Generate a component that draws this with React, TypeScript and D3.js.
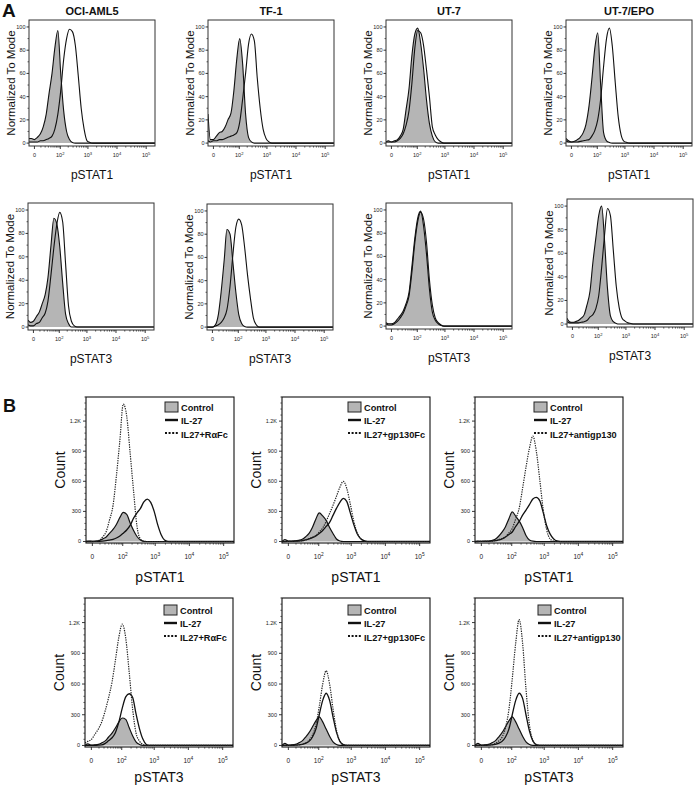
import React from 'react';
import * as d3 from 'd3';

// ---------- shared axis data ----------
// intensity grid (fluorescence units) at which histogram heights were read
const X_GRID = [-8, -4, 0, 4, 9, 15, 23, 32, 45, 60, 80, 104, 135, 174, 223, 284, 362, 459, 582, 736, 931, 1176, 1485, 1874, 2363, 2978];
const X_MAJOR = [0, 100, 1000, 10000, 100000];
const X_EXP = ['', '2', '3', '4', '5'];
const CELL_LINES = ['OCI-AML5', 'TF-1', 'UT-7', 'UT-7/EPO'];
const A_MARKERS = ['pSTAT1', 'pSTAT3'];
const A_Y_TICKS = [0, 20, 40, 60, 80, 100];
const B_Y_TICKS = [0, 300, 600, 900, 1200];
const B_Y_LABELS = ['0', '300', '600', '900', '1.2K'];
const B_LEGEND = ['Control', 'IL-27'];
const B_TREATMENTS = ['IL27+R\u03b1Fc', 'IL27+gp130Fc', 'IL27+antigp130'];
const B_MARKERS = ['pSTAT1', 'pSTAT3'];

// ---------- panel A: % of mode ----------
const OCI_STAT1_CTRL = [4, 4, 3, 5, 8, 14, 25, 42, 60, 82, 97, 60, 28, 10, 3, 0.5, 0];
const OCI_STAT1_IL27 = [1, 1, 1, 1, 2, 2, 3, 4, 6, 12, 25, 45, 72, 90, 98, 96, 84, 58, 30, 12, 2, 0.5, 0];
const TF1_STAT1_CTRL = [25, 3, 3, 6, 9, 10, 14, 20, 26, 45, 73, 90, 68, 25, 5, 1, 0];
const TF1_STAT1_IL27 = [2, 1, 2, 2, 3, 3, 4, 5, 6, 7, 9, 18, 38, 60, 85, 94, 88, 56, 30, 12, 4, 1, 0];
const UT7_STAT1_CTRL = [1, 2, 1, 2, 3, 6, 12, 28, 47, 75, 94, 99, 86, 64, 37, 17, 6, 1, 0];
const UT7_STAT1_IL27 = [1, 1, 1, 1, 2, 4, 8, 15, 28, 51, 82, 97, 95, 84, 63, 40, 14, 7, 3, 1, 0];
const EPO_STAT1_CTRL = [4, 2, 1, 1.5, 3, 5, 9, 16, 32, 55, 82, 95, 50, 9, 2, 0.5, 0];
const EPO_STAT1_IL27 = [2, 1, 1, 1, 1, 1.5, 2, 2.5, 3, 6, 11, 20, 38, 66, 90, 99, 83, 52, 23, 7, 1.5, 0.5, 0];

const OCI_STAT3_CTRL = [6, 4, 5, 9, 13, 20, 28, 42, 70, 93, 88, 69, 38, 11, 3, 0];
const OCI_STAT3_IL27 = [2, 1, 1, 3, 4, 8, 12, 22, 45, 68, 88, 98, 90, 54, 18, 5, 1, 0];
const TF1_STAT3_CTRL = [0, 0, 0, 2, 11, 31, 58, 84, 80, 56, 30, 11, 3, 0.5, 0];
const TF1_STAT3_IL27 = [0, 0, 0, 1, 2, 4, 8, 15, 35, 62, 86, 93, 88, 69, 45, 25, 8, 2, 0];
const UT7_STAT3_CTRL = [3, 2, 2, 3, 6, 9, 13, 19, 29, 51, 76, 93, 99, 86, 62, 32, 12, 5, 2, 0.5, 0];
const UT7_STAT3_IL27 = [2, 1, 1, 2, 4, 7, 11, 17, 26, 46, 72, 90, 98, 92, 72, 40, 18, 7, 3, 1, 0];
const EPO_STAT3_CTRL = [5, 2, 1.5, 2, 3, 5, 8, 16, 28, 52, 73, 92, 100, 70, 30, 7, 2, 0.5, 0];
const EPO_STAT3_IL27 = [2, 1, 1, 1, 1, 1.5, 2, 3, 6, 8, 13, 24, 48, 76, 98, 92, 62, 32, 14, 5, 2.5, 1, 0.5, 0];

// ---------- panel B: counts ----------
const RA_STAT1_CTRL = [0, 5, 2, 4, 10, 25, 45, 80, 120, 170, 240, 290, 270, 185, 110, 50, 15, 2, 0];
const RA_STAT1_IL27 = [0, 0, 0, 1, 2, 4, 8, 14, 22, 35, 55, 83, 115, 160, 233, 285, 330, 395, 423, 390, 300, 170, 70, 15, 2, 0];
const RA_STAT1_MIX = [0, 0, 0, 2, 15, 45, 100, 210, 360, 650, 1010, 1370, 1250, 880, 500, 150, 25, 3, 0];
const GP_STAT1_CTRL = [0, 20, 3, 4, 6, 12, 22, 45, 80, 140, 225, 285, 255, 210, 140, 80, 25, 5, 0];
const GP_STAT1_IL27 = [0, 0, 1, 2, 3, 5, 8, 15, 25, 38, 55, 80, 110, 150, 190, 260, 330, 390, 430, 400, 290, 175, 80, 30, 8, 0];
const GP_STAT1_MIX = [0, 0, 1, 2, 3, 5, 8, 15, 28, 42, 60, 95, 135, 200, 280, 360, 450, 540, 600, 530, 380, 210, 90, 30, 8, 0];
const AB_STAT1_CTRL = [0, 3, 2, 3, 5, 10, 22, 50, 93, 145, 227, 295, 252, 205, 140, 60, 15, 3, 0];
const AB_STAT1_IL27 = [0, 0, 1, 1, 2, 4, 8, 15, 25, 45, 70, 95, 150, 200, 262, 313, 368, 424, 440, 407, 291, 159, 76, 28, 5, 0];
const AB_STAT1_MIX = [0, 0, 1, 1, 2, 4, 8, 18, 30, 45, 85, 130, 225, 330, 530, 740, 930, 1050, 900, 620, 320, 120, 25, 5, 0];

const RA_STAT3_CTRL = [0, 15, 3, 5, 10, 25, 45, 80, 120, 170, 230, 268, 255, 175, 95, 35, 10, 1, 0];
const RA_STAT3_IL27 = [0, 0, 1, 2, 3, 5, 20, 45, 75, 125, 230, 365, 474, 505, 470, 310, 165, 62, 10, 0];
const RA_STAT3_MIX = [25, 40, 58, 110, 160, 230, 340, 460, 620, 830, 1060, 1185, 1050, 720, 360, 122, 42, 10, 0];
const GP_STAT3_CTRL = [0, 20, 3, 5, 10, 25, 45, 80, 125, 180, 240, 280, 230, 160, 90, 35, 10, 1, 0];
const GP_STAT3_IL27 = [0, 0, 1, 2, 3, 5, 10, 20, 40, 80, 160, 300, 440, 510, 440, 280, 130, 40, 8, 0];
const GP_STAT3_MIX = [0, 0, 1, 2, 3, 5, 12, 25, 50, 100, 200, 380, 600, 730, 600, 360, 150, 45, 8, 0];
const AB_STAT3_CTRL = [0, 20, 3, 5, 10, 25, 45, 80, 125, 180, 240, 280, 230, 160, 90, 35, 10, 1, 0];
const AB_STAT3_IL27 = [0, 0, 1, 2, 3, 5, 10, 20, 40, 80, 160, 300, 440, 510, 460, 300, 140, 45, 8, 0];
const AB_STAT3_MIX = [0, 0, 1, 2, 4, 8, 20, 40, 80, 170, 350, 650, 1000, 1230, 1000, 550, 200, 50, 8, 0];

const FONT = "'Liberation Sans', Arial, Helvetica, sans-serif";
const GRAY = '#b5b5b5';
const X_MAX = 200000;

function minorTicks(): number[] {
  const out: number[] = [];
  for (let k = 1; k <= 9; k++) out.push(k * 10);
  [100, 1000, 10000].forEach((d) => { for (let k = 2; k <= 9; k++) out.push(k * d); });
  return out;
}

function toPts(arr: number[]): [number, number][] {
  const p: [number, number][] = arr.map((v, i) => [X_GRID[i], v] as [number, number]);
  p.push([X_MAX, 0]);
  return p;
}

function XAxis({ x, bottom, fs, labelOff }: any) {
  const minor = minorTicks();
  return (
    <g>
      {minor.map((v, i) => (
        <line key={'m' + i} x1={x(v)} x2={x(v)} y1={bottom} y2={bottom + 1.6} stroke="#222" strokeWidth={0.7} />
      ))}
      {X_MAJOR.map((v, i) => (
        <g key={'M' + i}>
          <line x1={x(v)} x2={x(v)} y1={bottom} y2={bottom + 3} stroke="#222" strokeWidth={0.9} />
          <text x={x(v)} y={bottom + labelOff} textAnchor="middle" fontSize={fs} fontFamily={FONT} fill="#222">
            {X_EXP[i] === '' ? '0' : '10'}
            {X_EXP[i] !== '' && (
              <tspan dy={-fs * 0.45} fontSize={fs * 0.75}>{X_EXP[i]}</tspan>
            )}
          </text>
        </g>
      ))}
    </g>
  );
}

function APanel({ id, left, top, bottom, width, title, xlabel, ctrl, treated }: any) {
  const right = left + width;
  const x = d3.scaleSymlog().constant(15).domain([-8, X_MAX]).range([left, right]);
  const y = d3.scaleLinear().domain([-2.5, 106]).range([bottom, top]);
  const line = d3.line<[number, number]>().x((d) => x(d[0])).y((d) => y(d[1])).curve(d3.curveMonotoneX);
  const area = d3.area<[number, number]>().x((d) => x(d[0])).y0(y(0)).y1((d) => y(d[1])).curve(d3.curveMonotoneX);
  const c = toPts(ctrl);
  const t = toPts(treated);
  const minorY = d3.range(10, 101, 20);
  const cx = (left + right) / 2;
  return (
    <g>
      <defs>
        <clipPath id={id}><rect x={left} y={top} width={width} height={bottom - top} /></clipPath>
      </defs>
      <g clipPath={`url(#${id})`}>
        <path d={area(c) || ''} fill={GRAY} stroke="none" />
        <path d={line(c) || ''} fill="none" stroke="#111" strokeWidth={1.1} />
        <path d={line(t) || ''} fill="none" stroke="#111" strokeWidth={1.1} />
      </g>
      <rect x={left} y={top} width={width} height={bottom - top} fill="none" stroke="#333" strokeWidth={1} />
      {A_Y_TICKS.map((v) => (
        <g key={v}>
          <line x1={left - 2.5} x2={left} y1={y(v)} y2={y(v)} stroke="#222" strokeWidth={0.9} />
          <text x={left - 3.5} y={y(v) + 2} textAnchor="end" fontSize={5.5} fontFamily={FONT} fill="#222">{v}</text>
        </g>
      ))}
      {minorY.map((v) => (
        <line key={'my' + v} x1={left - 1.5} x2={left} y1={y(v)} y2={y(v)} stroke="#222" strokeWidth={0.7} />
      ))}
      <XAxis x={x} bottom={bottom} fs={5.5} labelOff={11} />
      {title && (
        <text x={cx} y={15} textAnchor="middle" fontSize={11} fontWeight="bold" fontFamily={FONT} fill="#111">{title}</text>
      )}
      <text x={cx} y={bottom + 33} textAnchor="middle" fontSize={12} fontFamily={FONT} fill="#111">{xlabel}</text>
      <text transform={`translate(${left - 14},${(top + bottom) / 2}) rotate(-90)`} textAnchor="middle" fontSize={11.5} fontFamily={FONT} fill="#111">
        Normalized To Mode
      </text>
    </g>
  );
}

function BPanel({ id, left, top, bottom, width, xlabel, treatment, legendX, legendY, ctrl, il27, mix, labelOff }: any) {
  const right = left + width;
  const x = d3.scaleSymlog().constant(15).domain([-8, X_MAX]).range([left, right]);
  const y = d3.scaleLinear().domain([-15, 1440]).range([bottom, top]);
  const line = d3.line<[number, number]>().x((d) => x(d[0])).y((d) => y(d[1])).curve(d3.curveMonotoneX);
  const area = d3.area<[number, number]>().x((d) => x(d[0])).y0(y(0)).y1((d) => y(d[1])).curve(d3.curveMonotoneX);
  const c = toPts(ctrl);
  const s = toPts(il27);
  const m = toPts(mix);
  const minorY = d3.range(60, 1441, 60).filter((v) => v % 300 !== 0);
  const cx = (left + right) / 2;
  const legTexts = [B_LEGEND[0], B_LEGEND[1], treatment];
  return (
    <g>
      <defs>
        <clipPath id={id}><rect x={left} y={top} width={width} height={bottom - top} /></clipPath>
      </defs>
      <g clipPath={`url(#${id})`}>
        <path d={area(c) || ''} fill={GRAY} stroke="none" />
        <path d={line(c) || ''} fill="none" stroke="#111" strokeWidth={1.2} />
        <path d={line(s) || ''} fill="none" stroke="#111" strokeWidth={1.3} />
        <path d={line(m) || ''} fill="none" stroke="#222" strokeWidth={1.2} strokeDasharray="1.3 1.1" />
      </g>
      <rect x={left} y={top} width={width} height={bottom - top} fill="none" stroke="#111" strokeWidth={1.1} />
      {B_Y_TICKS.map((v, i) => (
        <g key={v}>
          <line x1={left - 3} x2={left} y1={y(v)} y2={y(v)} stroke="#222" strokeWidth={0.9} />
          <text x={left - 5} y={y(v) + 2} textAnchor="end" fontSize={5.5} fontFamily={FONT} fill="#222">{B_Y_LABELS[i]}</text>
        </g>
      ))}
      {minorY.map((v) => (
        <line key={'my' + v} x1={left - 1.6} x2={left} y1={y(v)} y2={y(v)} stroke="#222" strokeWidth={0.7} />
      ))}
      <XAxis x={x} bottom={bottom} fs={6.5} labelOff={16} />
      <text x={cx} y={bottom + labelOff} textAnchor="middle" fontSize={14} fontFamily={FONT} fill="#111">{xlabel}</text>
      <text transform={`translate(${left - 21},${(top + bottom) / 2}) rotate(-90)`} textAnchor="middle" fontSize={14} fontFamily={FONT} fill="#111">
        Count
      </text>
      <rect x={legendX} y={legendY} width={13} height={10} fill={GRAY} stroke="#222" strokeWidth={1} />
      <line x1={legendX} x2={legendX + 13} y1={legendY + 18} y2={legendY + 18} stroke="#111" strokeWidth={2.4} />
      <line x1={legendX} x2={legendX + 13} y1={legendY + 31} y2={legendY + 31} stroke="#111" strokeWidth={2.2} strokeDasharray="2 1.6" />
      {legTexts.map((tx, i) => (
        <text key={i} x={legendX + 16} y={legendY + 8.5 + i * 13.5} fontSize={9.2} fontWeight="bold" fontFamily={FONT} fill="#111">{tx}</text>
      ))}
    </g>
  );
}

export default function App() {
  const aRow1 = [
    { left: 29, ctrl: OCI_STAT1_CTRL, t: OCI_STAT1_IL27 },
    { left: 208, ctrl: TF1_STAT1_CTRL, t: TF1_STAT1_IL27 },
    { left: 386, ctrl: UT7_STAT1_CTRL, t: UT7_STAT1_IL27 },
    { left: 566, ctrl: EPO_STAT1_CTRL, t: EPO_STAT1_IL27 },
  ];
  const aRow2 = [
    { left: 28, top: 203, bottom: 330, ctrl: OCI_STAT3_CTRL, t: OCI_STAT3_IL27 },
    { left: 207, top: 204, bottom: 330, ctrl: TF1_STAT3_CTRL, t: TF1_STAT3_IL27 },
    { left: 386, top: 203, bottom: 329, ctrl: UT7_STAT3_CTRL, t: UT7_STAT3_IL27 },
    { left: 567, top: 199, bottom: 327, ctrl: EPO_STAT3_CTRL, t: EPO_STAT3_IL27 },
  ];
  const bRow1 = [
    { left: 86, legendX: 165, ctrl: RA_STAT1_CTRL, s: RA_STAT1_IL27, m: RA_STAT1_MIX },
    { left: 282, legendX: 348, ctrl: GP_STAT1_CTRL, s: GP_STAT1_IL27, m: GP_STAT1_MIX },
    { left: 475, legendX: 534, ctrl: AB_STAT1_CTRL, s: AB_STAT1_IL27, m: AB_STAT1_MIX },
  ];
  const bRow2 = [
    { left: 85, legendX: 164, ctrl: RA_STAT3_CTRL, s: RA_STAT3_IL27, m: RA_STAT3_MIX },
    { left: 282, legendX: 348, ctrl: GP_STAT3_CTRL, s: GP_STAT3_IL27, m: GP_STAT3_MIX },
    { left: 475, legendX: 538, ctrl: AB_STAT3_CTRL, s: AB_STAT3_IL27, m: AB_STAT3_MIX },
  ];
  return (
    <svg width={700} height={788} viewBox="0 0 700 788" style={{ position: 'absolute', left: 0, top: 0, background: '#fff' }}>
      <rect x={0} y={0} width={700} height={788} fill="#fff" />
      <text x={2} y={17} fontSize={19} fontWeight="bold" fontFamily={FONT} fill="#111">A</text>
      <text x={3} y={412} fontSize={18} fontWeight="bold" fontFamily={FONT} fill="#111">B</text>
      {aRow1.map((p, i) => (
        <APanel key={'a1' + i} id={'ca1' + i} left={p.left} top={20} bottom={146} width={126}
          title={CELL_LINES[i]} xlabel={A_MARKERS[0]} ctrl={p.ctrl} treated={p.t} />
      ))}
      {aRow2.map((p, i) => (
        <APanel key={'a2' + i} id={'ca2' + i} left={p.left} top={p.top} bottom={p.bottom} width={126}
          title={null} xlabel={A_MARKERS[1]} ctrl={p.ctrl} treated={p.t} />
      ))}
      {bRow1.map((p, i) => (
        <BPanel key={'b1' + i} id={'cb1' + i} left={p.left} top={397} bottom={543} width={148}
          xlabel={B_MARKERS[0]} treatment={B_TREATMENTS[i]} legendX={p.legendX} legendY={402}
          ctrl={p.ctrl} il27={p.s} mix={p.m} labelOff={39} />
      ))}
      {bRow2.map((p, i) => (
        <BPanel key={'b2' + i} id={'cb2' + i} left={p.left} top={598} bottom={747} width={148}
          xlabel={B_MARKERS[1]} treatment={B_TREATMENTS[i]} legendX={p.legendX} legendY={605}
          ctrl={p.ctrl} il27={p.s} mix={p.m} labelOff={35} />
      ))}
    </svg>
  );
}
